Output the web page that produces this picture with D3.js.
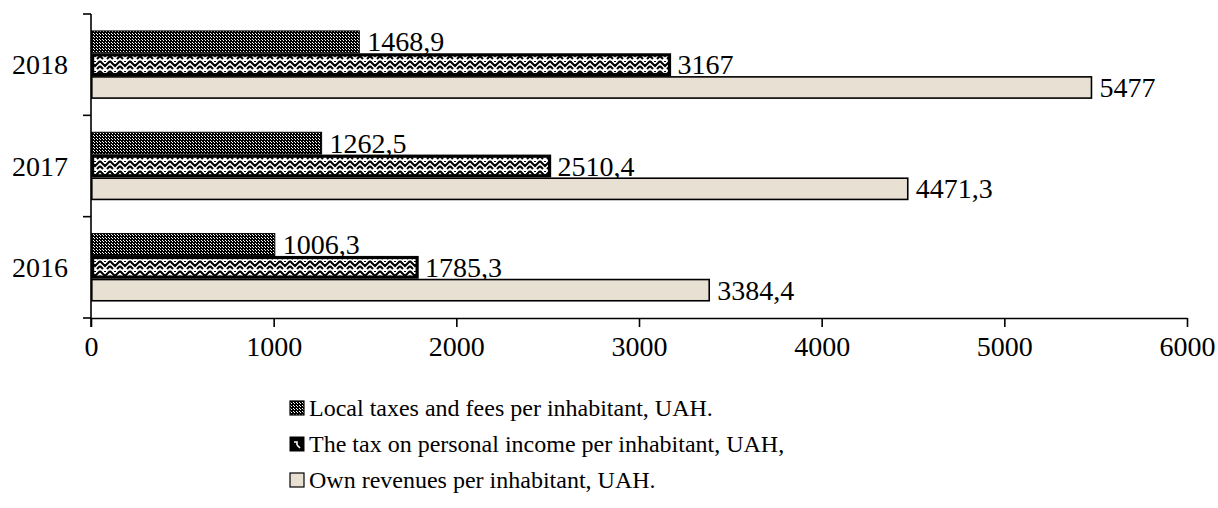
<!DOCTYPE html>
<html>
<head>
<meta charset="utf-8">
<script src="https://cdn.jsdelivr.net/npm/d3@7"></script>
<style>
  body { margin: 0; background: #fff; }
  svg text { font-family: "Liberation Serif", "Times New Roman", serif; fill: #000; }
</style>
</head>
<body>
<div id="container"></div>
<script>
const width = 1218;
const height = 508;

// data
const years = ["2018", "2017", "2016"];
const seriesNames = [
  "Local taxes and fees per inhabitant, UAH.",
  "The tax on personal income per inhabitant, UAH,",
  "Own revenues per inhabitant, UAH."
];
const localTaxes = [1468.9, 1262.5, 1006.3];
const incomeTax = [3167, 2510.4, 1785.3];
const ownRevenues = [5477, 4471.3, 3384.4];
const xTicks = [0, 1000, 2000, 3000, 4000, 5000, 6000];

const seriesValues = [localTaxes, incomeTax, ownRevenues];
const fmt = (v) => String(v).replace(".", ",");

const svg = d3
  .select("#container")
  .append("svg")
  .attr("width", width)
  .attr("height", height);

// patterns
const defs = svg.append("defs");
const dots = defs.append("pattern")
  .attr("id", "pDots")
  .attr("patternUnits", "userSpaceOnUse")
  .attr("width", 3).attr("height", 3);
dots.append("rect").attr("width", 3).attr("height", 3).attr("fill", "#000");
dots.append("rect").attr("x", 1).attr("y", 1).attr("width", 1).attr("height", 1).attr("fill", "#fff");
dots.append("rect").attr("x", 0).attr("y", 0).attr("width", 1).attr("height", 1).attr("fill", "#fff");

const zig = defs.append("pattern")
  .attr("id", "pZig")
  .attr("patternUnits", "userSpaceOnUse")
  .attr("width", 10).attr("height", 10);
zig.append("rect").attr("width", 10).attr("height", 10).attr("fill", "#fff");
zig.append("path").attr("d", "M0,1 L5,6 L10,1 M0,6 L3,9 M10,6 L7,9 M5,1 L5,2")
  .attr("stroke", "#000").attr("stroke-width", 2).attr("fill", "none");

const fills = ["url(#pDots)", "url(#pZig)", "#e8e0d3"];
const strokes = [1, 3.2, 1.6];

// scales
const x = d3.scaleLinear().domain([0, 6000]).range([91, 1187]);
const y = d3.scaleBand().domain(years).range([14, 318]).padding(0);
const sub = d3.scaleBand().domain(d3.range(3)).range([0, y.bandwidth()]).paddingOuter(0.72);

// x axis
const xAxis = svg.append("g")
  .attr("transform", `translate(0,${y.range()[1]})`)
  .call(d3.axisBottom(x).tickValues(xTicks).tickFormat(d3.format("d"))
    .tickSize(9).tickPadding(9).tickSizeOuter(0));
xAxis.select(".domain").attr("stroke", "#000").attr("stroke-width", 1.6);
xAxis.selectAll(".tick line").attr("stroke", "#000").attr("stroke-width", 1.6);
xAxis.selectAll(".tick text")
  .style("font-family", '"Liberation Serif", serif')
  .style("font-size", "28px");

// y axis
const yAxis = svg.append("g");
yAxis.append("line")
  .attr("x1", x(0)).attr("x2", x(0))
  .attr("y1", y.range()[0]).attr("y2", y.range()[1] + 9)
  .attr("stroke", "#000").attr("stroke-width", 1.6);
yAxis.selectAll("line.tk")
  .data(years.map((d) => y(d)).concat([y.range()[1]]))
  .enter()
  .append("line")
  .attr("class", "tk")
  .attr("x1", x(0) - 8).attr("x2", x(0))
  .attr("y1", (d) => d).attr("y2", (d) => d)
  .attr("stroke", "#000").attr("stroke-width", 1.6);
yAxis.selectAll("text")
  .data(years)
  .enter()
  .append("text")
  .attr("x", 68)
  .attr("y", (d) => y(d) + y.bandwidth() / 2)
  .attr("text-anchor", "end")
  .attr("dominant-baseline", "central")
  .style("font-size", "28px")
  .text((d) => d);

// bars + labels, series drawn in order
seriesValues.forEach((vals, si) => {
  const g = svg.append("g");
  const sw = strokes[si];
  g.selectAll("rect")
    .data(vals)
    .enter()
    .append("rect")
    .attr("x", x(0) + sw / 2)
    .attr("y", (d, i) => y(years[i]) + sub(si) + sw / 2)
    .attr("width", (d) => x(d) - x(0) - sw / 2)
    .attr("height", sub.bandwidth() - sw)
    .attr("fill", fills[si])
    .attr("stroke", "#000")
    .attr("stroke-width", sw);
  g.selectAll("text")
    .data(vals)
    .enter()
    .append("text")
    .attr("x", (d) => x(d) + 8)
    .attr("y", (d, i) => y(years[i]) + sub(si) + sub.bandwidth() / 2)
    .attr("dominant-baseline", "central")
    .style("font-size", "28px")
    .text((d) => fmt(d));
});

// legend
const legend = svg.append("g").attr("transform", "translate(290,0)");
seriesNames.forEach((name, i) => {
  const ly = 408 + i * 36;
  legend.append("rect")
    .attr("x", 0).attr("y", ly - 7)
    .attr("width", 14).attr("height", 14)
    .attr("fill", i === 1 ? "#000" : fills[i])
    .attr("stroke", "#000").attr("stroke-width", i === 1 ? 1 : 1.2);
  if (i === 1) {
    legend.append("path")
      .attr("d", `M4,${ly - 2} L7,${ly - 2} L7,${ly + 1} M7,${ly + 1} L10,${ly + 4}`)
      .attr("stroke", "#fff").attr("stroke-width", 1.6).attr("fill", "none");
  }
  legend.append("text")
    .attr("x", 19)
    .attr("y", ly)
    .attr("dominant-baseline", "central")
    .style("font-size", "24px")
    .text(name);
});
</script>
</body>
</html>
